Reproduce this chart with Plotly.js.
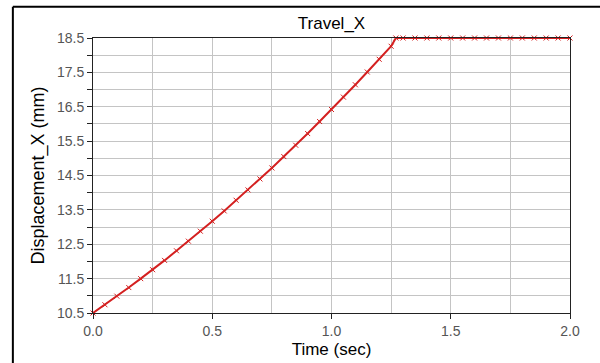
<!DOCTYPE html>
<html><head><meta charset="utf-8">
<script src="https://cdn.plot.ly/plotly-3.0.1.min.js"></script>
<style>html,body{margin:0;padding:0;background:#fff}#chart{width:600px;height:363px}</style>
</head><body><div id="chart"></div>
<script>
const timeSec = [0.00,0.05,0.10,0.15,0.20,0.25,0.30,0.35,0.40,0.45,0.50,0.55,0.60,0.65,0.70,0.75,0.80,0.85,0.90,0.95,1.00,1.05,1.10,1.15,1.20,1.25,1.27,1.30,1.35,1.40,1.45,1.50,1.55,1.60,1.65,1.70,1.75,1.80,1.85,1.90,1.95,2.00];
const displacementX = [10.50,10.74,10.99,11.24,11.50,11.76,12.03,12.31,12.59,12.88,13.17,13.47,13.78,14.08,14.40,14.72,15.05,15.38,15.72,16.07,16.42,16.78,17.14,17.51,17.88,18.26,18.50,18.50,18.50,18.50,18.50,18.50,18.50,18.50,18.50,18.50,18.50,18.50,18.50,18.50,18.50,18.50];
const chartTitle = "Travel_X";
const xTitle = "Time (sec)";
const yTitle = "Displacement_X (mm)";

const trace = {
  x: timeSec, y: displacementX, type: 'scatter', mode: 'lines+markers',
  line: {color: '#d42020', width: 2},
  marker: {symbol: 'x-thin-open', size: 5, line: {color: '#b03a3a', width: 1}},
  cliponaxis: false, hoverinfo: 'skip'
};
const font = "Liberation Sans, Arial, sans-serif";
const layout = {
  width: 600, height: 363,
  margin: {l: 93, r: 30, t: 38, b: 50},
  paper_bgcolor: '#fff', plot_bgcolor: '#fff',
  showlegend: false,
  font: {family: font, color: '#222'},
  title: {text: chartTitle, x: 0.5, xref: 'paper', y: 0.937, yref: 'container', yanchor: 'middle', font: {size: 17, color: '#000', family: font}},
  xaxis: {
    range: [0, 2.0], tick0: 0, dtick: 0.5, tickformat: '.1f',
    showline: true, linecolor: '#222', linewidth: 1, mirror: true,
    ticks: 'outside', ticklen: 5, tickcolor: '#222',
    showgrid: true, gridcolor: '#c4c4c4', zeroline: false,
    minor: {dtick: 0.25, showgrid: true, gridcolor: '#c4c4c4', ticks: ''},
    tickfont: {size: 14, color: '#555'},
    title: {text: xTitle, font: {size: 17, color: '#000'}, standoff: 5}
  },
  yaxis: {
    range: [10.5, 18.5], tick0: 10.5, dtick: 1, tickformat: '.1f',
    showline: true, linecolor: '#222', linewidth: 1, mirror: true,
    ticks: 'outside', ticklen: 5, tickcolor: '#222',
    showgrid: true, gridcolor: '#c4c4c4', zeroline: false,
    minor: {dtick: 0.5, showgrid: true, gridcolor: '#c4c4c4', ticks: 'outside', ticklen: 5, tickcolor: '#222'},
    tickfont: {size: 14, color: '#555'},
    title: {text: yTitle, font: {size: 18, color: '#000'}, standoff: 7}
  },
  shapes: [
    {type: 'line', xref: 'paper', yref: 'paper', x0: -0.168, x1: 1.2, y0: 1.1137, y1: 1.1137, line: {color: '#000', width: 2}},
    {type: 'line', xref: 'paper', yref: 'paper', x0: -0.168, x1: -0.168, y0: 1.1137, y1: -0.2, line: {color: '#000', width: 2}}
  ]
};
Plotly.newPlot('chart', [trace], layout, {staticPlot: true, displayModeBar: false});
</script></body></html>
